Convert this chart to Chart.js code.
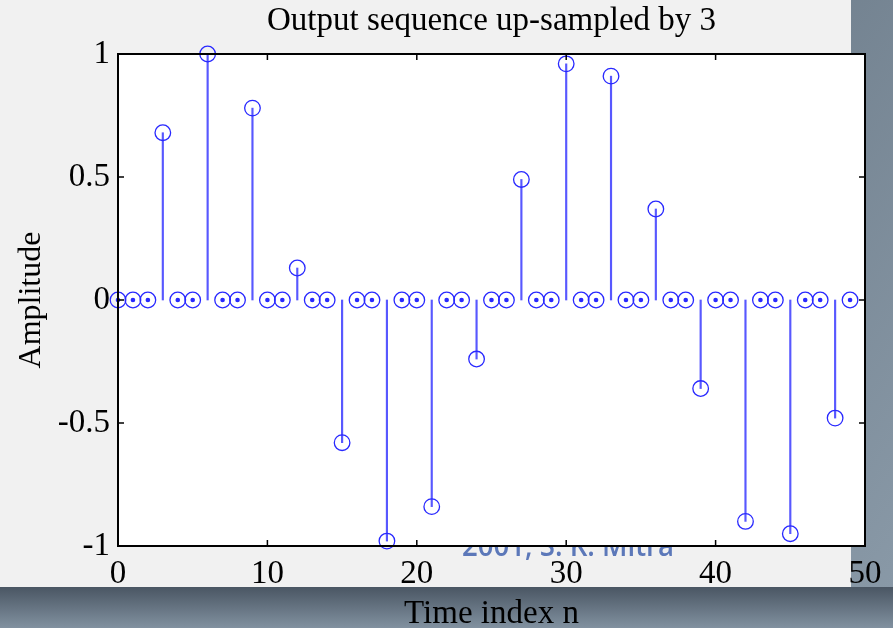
<!DOCTYPE html>
<html>
<head>
<meta charset="utf-8">
<script src="https://cdn.jsdelivr.net/npm/chart.js@4.4.1/dist/chart.umd.min.js"></script>
<style>
  html, body { margin: 0; padding: 0; background: #6f7d8a; }
  canvas { display: block; }
</style>
</head>
<body>
<canvas id="stemChart" width="893" height="628"></canvas>
<script>
//time index n (x axis)
var timeIndex = [0, 1, 2, 3, 4, 5, 6, 7, 8, 9, 10, 11, 12, 13, 14, 15, 16, 17, 18, 19,
  20, 21, 22, 23, 24, 25, 26, 27, 28, 29, 30, 31, 32, 33, 34, 35, 36, 37, 38, 39,
  40, 41, 42, 43, 44, 45, 46, 47, 48, 49];
//amplitude of the up-sampled output
var amplitude = [0, 0, 0, 0.68, 0, 0, 1.0, 0, 0, 0.78, 0, 0, 0.13, 0, 0, -0.58, 0, 0, -0.98, 0,
  0, -0.84, 0, 0, -0.24, 0, 0, 0.49, 0, 0, 0.96, 0, 0, 0.91, 0, 0, 0.37, 0, 0, -0.36,
  0, 0, -0.90, 0, 0, -0.95, 0, 0, -0.48, 0];
var xTicks = [0, 10, 20, 30, 40, 50];
var yTicks = [-1, -0.5, 0, 0.5, 1];
var yTickLabels = ['-1', '-0.5', '0', '0.5', '1'];

var titleText = 'Output sequence up-sampled by 3';
var watermark = '2001, S. K. Mitra';
var blue = 'rgb(40,40,255)';
var serif = '"Liberation Serif", "Times New Roman", serif';

//build points for the datasets
var stemPoints = [];
var zeroDots = [];
for (var i = 0; i < timeIndex.length; i++) {
  stemPoints.push({x: timeIndex[i], y: amplitude[i]});
  if (amplitude[i] === 0) zeroDots.push({x: timeIndex[i], y: 0});
}

//paint the slide background, the watermark and the white axes area
const backdrop = {
  id: 'backdrop',
  beforeDraw(chart) {
    var c = chart.ctx, a = chart.chartArea;
    c.save();
    var g = c.createLinearGradient(0, 0, 893, 628);
    g.addColorStop(0, '#8797a6');
    g.addColorStop(0.5, '#6c7b89');
    g.addColorStop(1, '#8a9aa8');
    c.fillStyle = g;
    c.fillRect(0, 0, 893, 628);
    var gb = c.createLinearGradient(0, 587, 0, 628);
    gb.addColorStop(0, '#4a5663');
    gb.addColorStop(1, '#8191a0');
    c.fillStyle = gb;
    c.fillRect(0, 587, 893, 41);
    c.fillStyle = '#f1f1f1';
    c.fillRect(0, 0, 851, 587);
    //watermark, mostly hidden behind the axes
    c.fillStyle = 'rgb(92,120,185)';
    c.font = '600 30px "Open Sans", "Liberation Sans", sans-serif';
    c.textBaseline = 'alphabetic';
    c.fillText(watermark, 462, 556, 212);
    c.fillStyle = '#ffffff';
    c.fillRect(a.left, a.top, a.right - a.left, a.bottom - a.top);
    c.restore();
  }
};

//matlab-style box with inward ticks
const axesBox = {
  id: 'axesBox',
  afterDraw(chart) {
    var c = chart.ctx, a = chart.chartArea;
    var xs = chart.scales.x, ys = chart.scales.y;
    c.save();
    c.strokeStyle = '#000';
    c.lineWidth = 2;
    c.strokeRect(a.left, a.top, a.right - a.left, a.bottom - a.top);
    c.lineWidth = 1.5;
    c.beginPath();
    xTicks.forEach(function (t) {
      var px = xs.getPixelForValue(t);
      c.moveTo(px, a.bottom); c.lineTo(px, a.bottom - 6);
      c.moveTo(px, a.top); c.lineTo(px, a.top + 6);
    });
    yTicks.forEach(function (t) {
      var py = ys.getPixelForValue(t);
      c.moveTo(a.left, py); c.lineTo(a.left + 6, py);
      c.moveTo(a.right, py); c.lineTo(a.right - 6, py);
    });
    c.stroke();
    c.restore();
  }
};

const config = {
  type: 'scatter',
  data: {
    datasets: [
      {
        //zero-level dots
        data: zeroDots,
        pointStyle: 'circle',
        pointRadius: 2.3,
        backgroundColor: blue,
        borderWidth: 0,
        clip: false,
        order: 1
      },
      {
        //stem heads
        data: stemPoints,
        pointStyle: 'circle',
        pointRadius: 7.8,
        borderColor: blue,
        borderWidth: 1.3,
        backgroundColor: 'rgba(0,0,0,0)',
        clip: false,
        order: 2
      },
      {
        //stems
        type: 'bar',
        data: stemPoints,
        backgroundColor: 'rgba(70,70,255,0.9)',
        barThickness: 1.5,
        order: 3
      }
    ]
  },
  options: {
    responsive: false,
    animation: false,
    layout: { padding: { left: 0, top: 0, right: 28, bottom: 0 } },
    plugins: {
      legend: { display: false },
      tooltip: { enabled: false },
      title: {
        display: true,
        text: titleText,
        fullSize: false,
        color: '#000',
        font: { family: serif, size: 33, weight: 'normal', lineHeight: 1.2 },
        padding: { top: 2, bottom: 12.4 }
      }
    },
    scales: {
      x: {
        type: 'linear',
        min: 0,
        max: 50,
        offset: false,
        afterFit: function (s) { s.height = 82; },
        afterBuildTicks: function (s) { s.ticks = xTicks.map(function (v) { return {value: v}; }); },
        grid: { display: false, drawTicks: false, offset: false },
        border: { display: false },
        ticks: { color: '#000', padding: 9, font: { family: serif, size: 33 } },
        title: {
          display: true,
          text: 'Time index n',
          color: '#000',
          font: { family: serif, size: 33 },
          padding: { top: 0, bottom: -6 }
        }
      },
      y: {
        type: 'linear',
        min: -1,
        max: 1,
        afterFit: function (s) { s.width = 118; },
        afterBuildTicks: function (s) { s.ticks = yTicks.map(function (v) { return {value: v}; }); },
        grid: { display: false, drawTicks: false },
        border: { display: false },
        ticks: {
          color: '#000',
          padding: 8,
          font: { family: serif, size: 33 },
          callback: function (v) { return yTickLabels[yTicks.indexOf(v)]; }
        },
        title: {
          display: true,
          text: 'Amplitude',
          color: '#000',
          font: { family: serif, size: 32 },
          padding: { top: 12, bottom: 0 }
        }
      }
    }
  },
  plugins: [backdrop, axesBox]
};

var ctx = document.getElementById('stemChart');
var stemChart = new Chart(ctx, config);
</script>
</body>
</html>
